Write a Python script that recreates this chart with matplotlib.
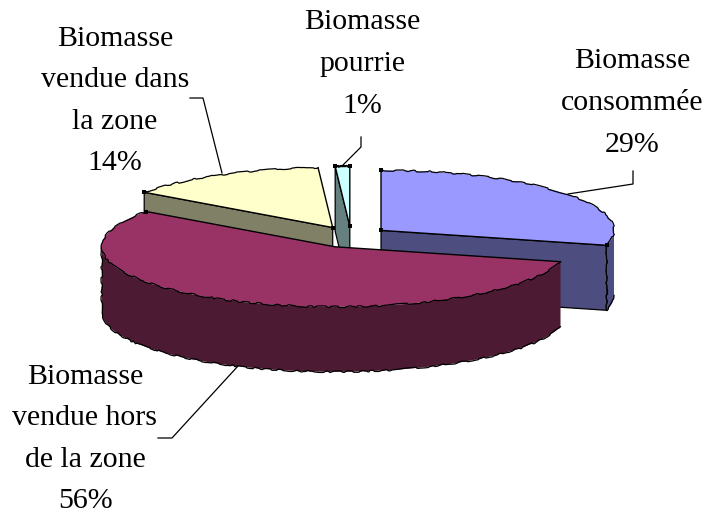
import numpy as np
import matplotlib
matplotlib.use('Agg')
import matplotlib.pyplot as plt
from matplotlib.patches import Polygon

labels = ['Biomasse\nconsommée', 'Biomasse\nvendue hors\nde la zone', 'Biomasse\nvendue dans\nla zone', 'Biomasse\npourrie']
values = [29, 56, 14, 1]
top_colors = ['#9999FF', '#993366', '#FFFFCC', '#CCFFFF']
wall_colors = ['#4D4D80', '#4D1A33', '#808066', '#668080']
label_pos = [(632, 103), (85, 439), (115, 101), (362, 64)]
leaders = [
    [(568, 194), (633, 184), (633, 171)],
    [(238, 366), (172, 438), (158, 438)],
    [(222, 173), (203, 98), (190, 98)],
    [(342, 166), (361, 147), (361, 137)],
]

# pie geometry, in pixels
cx, cy = 351, 237
rx, ry = 233, 60
depth = 65
explode_x, explode_y = 0.163, 0.18
draw_order = [3, 2, 0, 1]
corner_marks = {0: 'sae', 1: 'e', 2: 'sa', 3: 'sae'}


def rim(cen, ang):
    # ang is clockwise from 12 o'clock, in degrees
    t = np.radians(ang)
    return cen[0] + rx*np.sin(t), cen[1] - ry*np.cos(t)


def draw_slice(ax, i, a1, a2, z):
    mid = np.radians((a1 + a2)/2)
    cen = (cx + explode_x*rx*np.sin(mid), cy - explode_y*ry*np.cos(mid))
    ang = np.linspace(a1, a2, 120)
    xs, ys = rim(cen, ang)
    ap = np.array(cen)

    # straight walls on the cut edges, only those turned to the viewer
    for a, visible in ((a1, np.sin(np.radians(a1)) < 0), (a2, np.sin(np.radians(a2)) > 0)):
        if visible:
            p = np.array(rim(cen, a))
            pts = [ap, p, p + [0, depth], ap + [0, depth]]
            ax.add_patch(Polygon(pts, fc=wall_colors[i], ec='black', lw=0.9, zorder=z))

    # outer wall
    lo, hi = max(a1, 90), min(a2, 270)
    if hi > lo:
        wa = np.linspace(lo, hi, 150)
        wx, wy = rim(cen, wa)
        pts = np.r_[np.c_[wx, wy], np.c_[wx, wy + depth][::-1]]
        ax.add_patch(Polygon(pts, fc=wall_colors[i], ec='none', zorder=z))
        line, = ax.plot(np.r_[wx[0], wx, wx[-1]], np.r_[wy[0]+depth, wy + depth, wy[-1]],
                        color='black', lw=0.9, zorder=z)
        line.set_sketch_params(scale=0.8, length=45, randomness=16)

    # top face
    pts = np.r_[[ap], np.c_[xs, ys]]
    ax.add_patch(Polygon(pts, fc=top_colors[i], ec='none', zorder=z))
    ax.plot([xs[0], ap[0], xs[-1]], [ys[0], ap[1], ys[-1]], color='black', lw=1.0, zorder=z)
    line, = ax.plot(xs, ys, color='black', lw=0.9, zorder=z)
    line.set_sketch_params(scale=0.8, length=45, randomness=16)

    where = {'s': (xs[0], ys[0]), 'a': (ap[0], ap[1]), 'e': (xs[-1], ys[-1])}
    for k in corner_marks[i]:
        ax.plot(*where[k], 's', color='black', ms=2.2, mew=0, zorder=z)


def main():
    fig = plt.figure(figsize=(7.06, 5.14), dpi=100)
    ax = fig.add_axes([0, 0, 1, 1])
    ax.set_xlim(0, 706)
    ax.set_ylim(514, 0)
    ax.axis('off')

    edges = np.r_[0, np.cumsum(values)]/np.sum(values)*360
    for z, i in enumerate(draw_order):
        draw_slice(ax, i, edges[i], edges[i+1], 2 + z)

    for i in range(len(values)):
        xs, ys = zip(*leaders[i])
        ax.plot(xs, ys, color='black', lw=0.9, zorder=10)
        ax.text(label_pos[i][0], label_pos[i][1], f'{labels[i]}\n{values[i]}%',
                ha='center', va='center', family='Liberation Serif', fontsize=21.5,
                linespacing=1.78, zorder=11)

    fig.savefig('out.png', dpi=100)


if __name__ == '__main__':
    main()
